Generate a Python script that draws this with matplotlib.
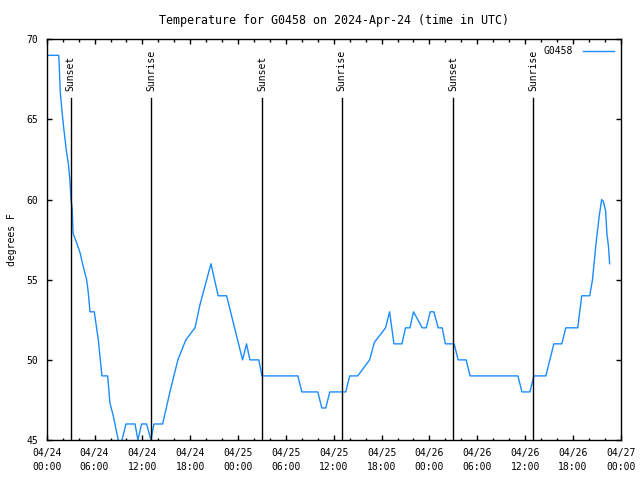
import matplotlib
matplotlib.use('Agg')
import matplotlib.pyplot as plt
import matplotlib.dates as mdates
import pandas as pd

plt.rcParams['font.family'] = ['DejaVu Sans Mono']
plt.rcParams['font.size'] = 7

start = pd.Timestamp('2024-04-24 00:00')

# hours since start, temperature in F
hours = [0, 1.5, 1.55, 1.7, 1.9, 2.1, 2.3, 2.5, 2.7, 2.9, 3.05, 3.2, 3.3, 3.76, 4.17, 4.59,
         5.01, 5.21, 5.43, 5.96, 6.05, 6.47, 6.68, 6.93, 7.64, 7.93, 8.35, 8.97, 9.2, 9.44,
         9.94, 11.07, 11.44, 11.9, 12.53, 13.07, 13.45, 14.54, 15.45, 16.45, 17.45, 18.6,
         19.2, 20.6, 21.5, 22.56, 24.56, 25.06, 25.48, 26.6, 27.0, 31.5, 32.0, 34.0, 34.5,
         35.0, 35.5, 37.5, 38.0, 39.0, 40.5, 41.1, 42.5, 43.0, 43.55, 44.55, 45.0, 45.55,
         46.0, 47.1, 47.6, 48.1, 48.55, 49.1, 49.6, 50.0, 51.1, 51.6, 52.6, 53.1, 59.1,
         59.6, 60.6, 61.1, 62.6, 63.6, 64.6, 65.1, 66.6, 67.1, 68.1, 68.45, 68.9, 69.3,
         69.6, 69.8, 70.1, 70.25, 70.45, 70.6]
temps = [69, 69, 68.6, 66.7, 65.6, 64.6, 63.75, 62.9, 62.3, 61.25, 60, 59.4, 57.9, 57.3, 56.7, 55.8,
         55, 54.2, 53, 53, 52.7, 51.25, 50.2, 49, 49, 47.3, 46.5, 45, 44.5, 45,
         46, 46, 45, 46, 46, 45, 46, 46, 48, 50, 51.25, 52,
         53.4, 56, 54, 54, 50, 51, 50, 50, 49, 49, 48, 48, 47,
         47, 48, 48, 49, 49, 50, 51.1, 52, 53, 51, 51, 52, 52,
         53, 52, 52, 53, 53, 52, 52, 51, 51, 50, 50, 49, 49,
         48, 48, 49, 49, 51, 51, 52, 52, 54, 54, 55, 57.3, 59,
         60, 59.9, 59.3, 57.9, 57.1, 56]

sun_hours = [3.0, 13.07, 27.0, 37.0, 51.0, 61.05]
sun_labels = ['Sunset', 'Sunrise', 'Sunset', 'Sunrise', 'Sunset', 'Sunrise']

times = start + pd.to_timedelta(hours, unit='h')

fig = plt.figure(figsize=(6.4, 4.8), dpi=100)
ax = fig.add_axes([0.073, 0.0833, 0.897, 0.8348])

ax.plot(times, temps, color='#1a8cff', lw=1.0, label='G0458')

for h, lab in zip(sun_hours, sun_labels):
    t = start + pd.Timedelta(hours=h)
    ax.plot([t, t], [45, 66.35], color='black', lw=1.0)
    ax.text(t, 66.8, lab, rotation=90, ha='center', va='bottom')

ax.set_xlim(start, start + pd.Timedelta(hours=72))
ax.set_ylim(45, 70)
ax.set_yticks([45, 50, 55, 60, 65, 70])

ax.xaxis.set_major_locator(mdates.HourLocator(byhour=range(0, 24, 6)))
ax.xaxis.set_minor_locator(mdates.HourLocator(interval=2))
ax.xaxis.set_major_formatter(mdates.DateFormatter('%m/%d\n%H:%M'))

ax.tick_params(which='both', direction='in', top=True, right=True, width=1, colors='black')
ax.tick_params(which='major', length=3.6, pad=6)
ax.tick_params(which='minor', length=1.8)
for lbl in ax.get_xticklabels():
    lbl.set_linespacing(1.45)
for s in ax.spines.values():
    s.set_linewidth(1)

ax.set_ylabel('degrees F', labelpad=7)
ax.set_title('Temperature for G0458 on 2024-Apr-24 (time in UTC)', pad=11)

ax.legend(loc='upper right', frameon=False, markerfirst=False, handlelength=3.2,
          borderaxespad=0.3, handletextpad=1.0)

fig.savefig('out.png', dpi=100)
